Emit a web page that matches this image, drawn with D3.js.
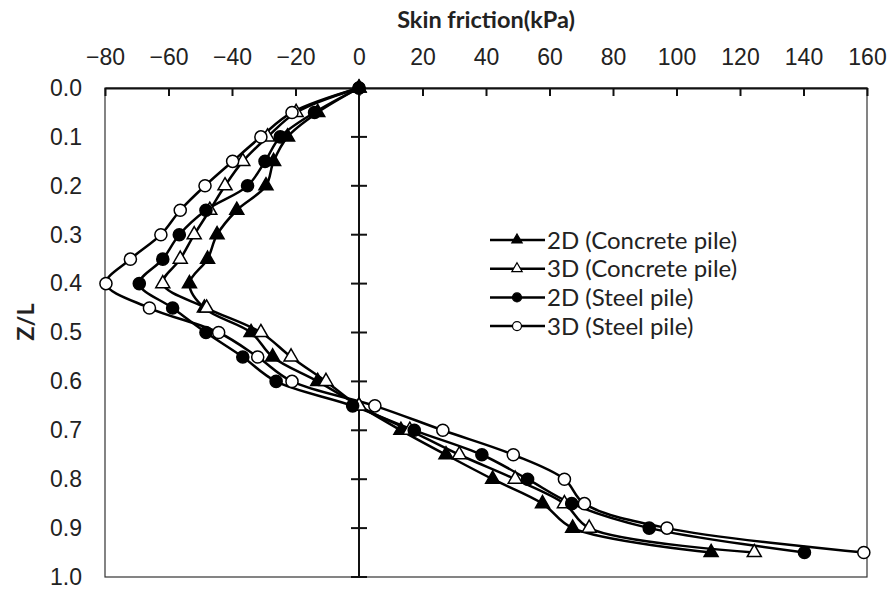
<!DOCTYPE html>
<html>
  <head>
    <meta charset="UTF-8">
    <style>
      body {
        margin: 0;
        background: white;
      }

      .tick-label text {
        font-family: "Liberation Sans", Arial, sans-serif;
        font-size: 23px;
        fill: #222;
      }

      .legend text {
        font-family: Lato, "Noto Sans", sans-serif;
        font-size: 24px;
        fill: #222;
      }

      .axis-title {
        font-family: Lato, "Noto Sans", sans-serif;
        font-weight: bold;
        font-size: 23.5px;
        fill: #222;
      }
    </style>
    <script src="https://d3js.org/d3.v7.min.js"></script>
  </head>

  <body>
    <svg id="chart"></svg>

    <script type="text/javascript">
      // Z/L depths (shared by all series)
      const depths = [0, 0.05, 0.1, 0.15, 0.2, 0.25, 0.3, 0.35, 0.4, 0.45,
                      0.5, 0.55, 0.6, 0.65, 0.7, 0.75, 0.8, 0.85, 0.9, 0.95]

      // skin friction in kPa
      const concrete2D = [0, -13, -22.5, -26.9, -29.3, -38.5, -44.7, -47.7, -53.4, -48.7,
                          -34, -27.2, -13, 0, 13.2, 27.4, 42.1, 57.8, 67.3, 110.9]
      const concrete3D = [0, -19.8, -28.8, -36.6, -42.2, -47, -51.9, -56.3, -61.8, -48,
                          -30.9, -21.4, -10.4, 0, 16, 31.6, 49.2, 64.7, 72.5, 124.5]
      const steel2D = [0, -14, -24.8, -29.6, -35.1, -48.2, -56.6, -61.8, -69.2, -58.7,
                       -48.2, -36.6, -26.1, -2, 17.4, 38.7, 53.1, 67, 91.4, 140.3]
      const steel3D = [0, -21.1, -30.9, -39.8, -48.5, -56.3, -62.4, -72, -79.7, -66,
                       -44.2, -31.9, -21.1, 5, 26.4, 48.6, 64.7, 71, 97, 159]

      const seriesNames = ['2D (Concrete pile)', '3D (Concrete pile)', '2D (Steel pile)', '3D (Steel pile)']
      const seriesValues = [concrete2D, concrete3D, steel2D, steel3D]
      const seriesMarkers = ['triangle', 'triangle', 'circle', 'circle']
      const seriesFilled = [true, false, true, false]
      // order the marker layers are painted in (filled steel dots end up on top)
      const markerOrder = [0, 1, 3, 2]

      const xTicks = [-80, -60, -40, -20, 0, 20, 40, 60, 80, 100, 120, 140, 160]
      const yTicks = [0, 0.1, 0.2, 0.3, 0.4, 0.5, 0.6, 0.7, 0.8, 0.9, 1.0]

      const width = 891
      const height = 590
      const plot = { left: 105, right: 867, top: 88, bottom: 577 }

      const svg = d3.select('#chart')
        .attr('width', width)
        .attr('height', height)

      const x = d3.scaleLinear()
        .domain([-80, 160])
        .range([plot.left, plot.right])

      const y = d3.scaleLinear()
        .domain([0, 1])
        .range([plot.top, plot.bottom])

      // plot area border
      svg.append('rect')
        .attr('x', plot.left)
        .attr('y', plot.top)
        .attr('width', plot.right - plot.left)
        .attr('height', plot.bottom - plot.top)
        .attr('fill', 'none')
        .attr('stroke', '#333')
        .attr('stroke-width', 1.2)

      // horizontal axis on top, ticks pointing into the plot
      const xAxis = svg.append('g')
        .attr('class', 'tick-label')
        .attr('transform', `translate(0, ${y(0)})`)
        .call(d3.axisTop(x)
          .tickValues(xTicks)
          .tickSizeInner(-8)
          .tickSizeOuter(0)
          .tickPadding(23))
      xAxis.select('.domain').attr('stroke', '#111').attr('stroke-width', 2)
      xAxis.selectAll('.tick line').attr('stroke', '#111').attr('stroke-width', 2)

      // vertical axis through zero with crossing ticks
      const yAxis = svg.append('g')
        .attr('transform', `translate(${x(0)}, 0)`)
      yAxis.append('line')
        .attr('y1', y(0))
        .attr('y2', y(1))
        .attr('stroke', '#111')
        .attr('stroke-width', 2)
      yAxis.selectAll('.ytick')
        .data(yTicks.slice(1))
        .join('line')
          .attr('class', 'ytick')
          .attr('x1', -8)
          .attr('x2', 8)
          .attr('y1', d => y(d))
          .attr('y2', d => y(d))
          .attr('stroke', '#111')
          .attr('stroke-width', 2)

      // y tick labels at the left edge
      const yLabels = svg.append('g')
        .attr('class', 'tick-label')
        .attr('transform', 'translate(82, 0)')
        .call(d3.axisLeft(y)
          .tickValues(yTicks)
          .tickFormat(d3.format('.1f'))
          .tickSize(0)
          .tickPadding(0))
      yLabels.select('.domain').remove()

      // axis titles
      svg.append('text')
        .attr('class', 'axis-title')
        .attr('x', (plot.left + plot.right) / 2)
        .attr('y', 28)
        .attr('text-anchor', 'middle')
        .text('Skin friction(kPa)')

      svg.append('text')
        .attr('class', 'axis-title')
        .attr('transform', 'translate(34, 322) rotate(-90)')
        .attr('text-anchor', 'middle')
        .text('Z/L')

      function markerPath(type, size) {
        let symbol = type === 'triangle' ? d3.symbolTriangle : d3.symbolCircle
        return d3.symbol().type(symbol).size(size)()
      }

      function markerSize(type, scale) {
        return type === 'triangle' ? 85 * scale : 115 * scale
      }

      const line = d3.line()
        .x(d => x(d.v))
        .y(d => y(d.z))
        .curve(d3.curveCatmullRom.alpha(0.5))

      const seriesPoints = seriesValues.map(values =>
        values.map((v, k) => ({ v: v, z: depths[k] })))

      // lines first
      seriesPoints.forEach(points => {
        svg.append('path')
          .datum(points)
          .attr('d', line)
          .attr('fill', 'none')
          .attr('stroke', '#000')
          .attr('stroke-width', 2.5)
      })

      // then markers
      markerOrder.forEach(i => {
        svg.append('g')
          .selectAll('path')
          .data(seriesPoints[i])
          .join('path')
            .attr('transform', d => `translate(${x(d.v)}, ${y(d.z)})`)
            .attr('d', markerPath(seriesMarkers[i], markerSize(seriesMarkers[i], 1)))
            .attr('fill', seriesFilled[i] ? '#000' : '#fff')
            .attr('stroke', '#000')
            .attr('stroke-width', 1.5)
      })

      // legend
      const legend = svg.append('g')
        .attr('class', 'legend')
        .attr('transform', 'translate(490, 240)')

      seriesNames.forEach((name, i) => {
        let row = legend.append('g')
          .attr('transform', `translate(0, ${i * 28.7})`)

        row.append('line')
          .attr('x1', 0)
          .attr('x2', 55)
          .attr('stroke', '#000')
          .attr('stroke-width', 2.5)

        row.append('path')
          .attr('transform', 'translate(27, 0)')
          .attr('d', markerPath(seriesMarkers[i], markerSize(seriesMarkers[i], 0.55)))
          .attr('fill', seriesFilled[i] ? '#000' : '#fff')
          .attr('stroke', '#000')
          .attr('stroke-width', 1.2)

        row.append('text')
          .attr('x', 57)
          .attr('y', 8.5)
          .text(name)
      })
    </script>
  </body>
</html>
